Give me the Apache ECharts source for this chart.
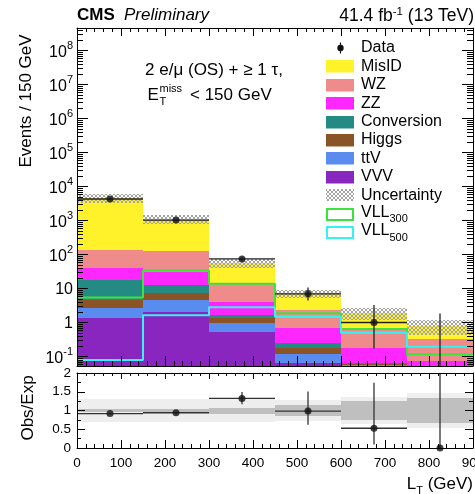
<!DOCTYPE html>
<html>
<head>
<meta charset="utf-8">
<script src="https://cdn.jsdelivr.net/npm/echarts@6.0.0/dist/echarts.min.js"></script>
<style>
html, body { margin: 0; padding: 0; background: #fff; }
#chart { width: 475px; height: 494px; }
</style>
</head>
<body>
<div id="chart"></div>
<script>
// L_T distribution, 150 GeV bins
const binEdges = [0, 150, 300, 450, 600, 750, 900];

// observed events with their 68% interval bounds
const observed     = [4290, 1029, 74, 7, 1, 0];
const observedLow  = [4225, 997, 65.4, 4.42, 0.173, 0];
const observedHigh = [4356, 1062, 83.6, 10.7, 3.30, 1.84];

// expected backgrounds (stacked bottom to top: VVV, ttV, Higgs, Conversion, ZZ, WZ, MisID)
const misID      = [4535, 968, 41.8, 4.8, 1.28, 0.47];
const wz         = [96, 96, 10.1, 1.6, 0.446, 0.255];
const zz         = [21.2, 18.3, 2.44, 0.455, 0.108, 0.035];
const conversion = [13.2, 5.5, 0.33, 0.071, 0.005, 0.005];
const higgs      = [1.9, 2.6, 0.34, 0.056, 0.004, 0.005];
const ttV        = [1.32, 2.6, 0.45, 0.055, 0.022, 0.01];
const vvv        = [1.38, 2.0, 0.54, 0.063, 0.035, 0.02];

// signal hypotheses
const vll300 = [5.4, 34, 13.7, 1.86, 0.64, 0.116];
const vll500 = [0.079, 1.63, 2.8, 1.48, 0.5, 0.195];

// relative uncertainty on the expectation (total and statistical)
const relUncTotal = [0.30, 0.30, 0.30, 0.27, 0.37, 0.47];
const relUncStat  = [0.03, 0.04, 0.08, 0.135, 0.255, 0.34];

// ratio panel ticks
const ratioTicks = [0, 0.5, 1, 1.5, 2];

const FONT = "'Liberation Sans', Arial, Helvetica, sans-serif";
const Y_MIN = Math.pow(10, -1.279);
const Y_MAX = Math.pow(10, 8.662);

const stackOrder = [
  { name: 'VVV', values: vvv, color: '#8a26c0' },
  { name: 'ttV', values: ttV, color: '#5a8cf0' },
  { name: 'Higgs', values: higgs, color: '#8b5426' },
  { name: 'Conversion', values: conversion, color: '#248a84' },
  { name: 'ZZ', values: zz, color: '#ff27ff' },
  { name: 'WZ', values: wz, color: '#f08b8b' },
  { name: 'MisID', values: misID, color: '#fff22b' }
];

const nBins = observed.length;
const totals = [];
for (let i = 0; i < nBins; i++) {
  let s = 0;
  stackOrder.forEach(c => { s += c.values[i]; });
  totals.push(s);
}

// fine cross-hatch used for the uncertainty band
function makeHatch() {
  const c = document.createElement('canvas');
  c.width = 4; c.height = 4;
  const g = c.getContext('2d');
  g.fillStyle = '#a3a3a3';
  [[0,0],[1,1],[2,2],[3,3],[3,0],[2,1],[1,2],[0,3]].forEach(p => g.fillRect(p[0], p[1], 1, 1));
  return c;
}
const hatch = { image: makeHatch(), repeat: 'repeat' };

function clipRect(p0, p1, cs) {
  const x = Math.round(Math.min(p0[0], p1[0]));
  const x2 = Math.round(Math.max(p0[0], p1[0]));
  const y = Math.round(Math.min(p0[1], p1[1]));
  const y2 = Math.round(Math.max(p0[1], p1[1]));
  return echarts.graphic.clipRectByRect(
    { x: x, y: y, width: x2 - x, height: y2 - y },
    { x: cs.x, y: cs.y, width: cs.width, height: cs.height }
  );
}

function rectRenderer(fill) {
  return function (params, api) {
    const lo = api.value(2);
    const hi = api.value(3);
    const p0 = api.coord([api.value(0), hi]);
    const p1 = api.coord([api.value(1), lo]);
    const shape = clipRect(p0, p1, params.coordSys);
    if (!shape) return null;
    return { type: 'rect', shape: shape, style: { fill: fill } };
  };
}

const series = [];

// stacked backgrounds
const cum = new Array(nBins).fill(0);
stackOrder.forEach(comp => {
  const rows = [];
  for (let i = 0; i < nBins; i++) {
    const lo = cum[i] > 0 ? cum[i] : Y_MIN * 1e-3;
    const hi = cum[i] + comp.values[i];
    rows.push([binEdges[i], binEdges[i + 1], lo, hi]);
    cum[i] = hi;
  }
  series.push({
    type: 'custom', name: comp.name, xAxisIndex: 0, yAxisIndex: 0, z: 2,
    renderItem: rectRenderer(comp.color), encode: { x: [0, 1], y: [2, 3] },
    data: rows, silent: true
  });
});

// uncertainty band on the expectation
series.push({
  type: 'custom', name: 'Uncertainty', xAxisIndex: 0, yAxisIndex: 0, z: 3,
  renderItem: rectRenderer(hatch), encode: { x: [0, 1], y: [2, 3] },
  data: totals.map((t, i) => [binEdges[i], binEdges[i + 1], t * (1 - relUncTotal[i]), t * (1 + relUncTotal[i])]),
  silent: true
});

// signal outlines
function stepData(vals) {
  const d = vals.map((v, i) => [binEdges[i], v]);
  d.push([binEdges[nBins], vals[nBins - 1]]);
  return d;
}
series.push({
  type: 'line', name: 'VLL300', xAxisIndex: 0, yAxisIndex: 0, z: 4, step: 'end',
  showSymbol: false, symbol: 'none', data: stepData(vll300),
  lineStyle: { color: '#3de33d', width: 2 }, silent: true
});
series.push({
  type: 'line', name: 'VLL500', xAxisIndex: 0, yAxisIndex: 0, z: 4, step: 'end',
  showSymbol: false, symbol: 'none', data: stepData(vll500),
  lineStyle: { color: '#33f3f3', width: 2 }, silent: true
});

// data error bars
function errRenderer(color, width) {
  return function (params, api) {
    const cs = params.coordSys;
    const x0 = api.value(0), x1 = api.value(1), v = api.value(2), lo = api.value(3), hi = api.value(4);
    const xc = (x0 + x1) / 2;
    const bottom = cs.y + cs.height, top = cs.y;
    const children = [];
    const pHi = api.coord([xc, hi]);
    let yTop = Math.max(pHi[1], top);
    let yBot = lo > 0 ? api.coord([xc, lo])[1] : bottom;
    yBot = Math.min(yBot, bottom);
    if (yBot > yTop) {
      children.push({ type: 'line', shape: { x1: pHi[0], y1: yTop, x2: pHi[0], y2: yBot },
        style: { stroke: color, lineWidth: width } });
    }
    if (v > 0) {
      const a = api.coord([x0, v]), b = api.coord([x1, v]);
      if (a[1] >= top && a[1] <= bottom) {
        children.push({ type: 'line', shape: { x1: a[0], y1: a[1], x2: b[0], y2: b[1] },
          style: { stroke: color, lineWidth: width } });
      }
    }
    return { type: 'group', children: children };
  };
}
series.push({
  type: 'custom', name: 'DataErr', xAxisIndex: 0, yAxisIndex: 0, z: 5,
  renderItem: errRenderer('#222', 1.3), encode: { x: [0, 1], y: [3, 4] },
  data: observed.map((v, i) => [binEdges[i], binEdges[i + 1], v, observedLow[i], observedHigh[i]]),
  silent: true
});
series.push({
  type: 'scatter', name: 'Data', xAxisIndex: 0, yAxisIndex: 0, z: 6,
  symbol: 'circle', symbolSize: 7, itemStyle: { color: '#111' },
  data: observed.map((v, i) => [(binEdges[i] + binEdges[i + 1]) / 2, v]).filter(d => d[1] > 0),
  silent: true
});

// log-axis minor ticks (2..9 of each decade), both sides
const minorTickVals = [];
for (let e = -2; e <= 8; e++) {
  for (let k = 2; k <= 9; k++) {
    const v = k * Math.pow(10, e);
    if (v > Y_MIN && v < Y_MAX) minorTickVals.push([450, v]);
  }
}
series.push({
  type: 'custom', name: 'logMinor', xAxisIndex: 0, yAxisIndex: 0, z: 20,
  encode: { x: 0, y: 1 }, data: minorTickVals, silent: true,
  renderItem: function (params, api) {
    const cs = params.coordSys;
    const y = Math.round(api.coord([450, api.value(1)])[1]) + 0.5;
    return { type: 'group', children: [
      { type: 'line', shape: { x1: cs.x, y1: y, x2: cs.x + 6, y2: y }, style: { stroke: '#000', lineWidth: 1 } },
      { type: 'line', shape: { x1: cs.x + cs.width, y1: y, x2: cs.x + cs.width - 6, y2: y }, style: { stroke: '#000', lineWidth: 1 } }
    ] };
  }
});

// ratio panel: uncertainty bands
series.push({
  type: 'custom', name: 'RatioTotUnc', xAxisIndex: 2, yAxisIndex: 2, z: 2,
  renderItem: rectRenderer('#eeeeee'), encode: { x: [0, 1], y: [2, 3] },
  data: relUncTotal.map((u, i) => [binEdges[i], binEdges[i + 1], 1 - u, 1 + u]), silent: true
});
series.push({
  type: 'custom', name: 'RatioStatUnc', xAxisIndex: 2, yAxisIndex: 2, z: 3,
  renderItem: rectRenderer('#bfbfbf'), encode: { x: [0, 1], y: [2, 3] },
  data: relUncStat.map((u, i) => [binEdges[i], binEdges[i + 1], 1 - u, 1 + u]), silent: true
});
series.push({
  type: 'custom', name: 'RatioErr', xAxisIndex: 2, yAxisIndex: 2, z: 5,
  renderItem: errRenderer('#333', 1.3), encode: { x: [0, 1], y: [3, 4] },
  data: observed.map((v, i) => [binEdges[i], binEdges[i + 1], v / totals[i],
    observedLow[i] / totals[i], observedHigh[i] / totals[i]]),
  silent: true
});
series.push({
  type: 'scatter', name: 'Ratio', xAxisIndex: 2, yAxisIndex: 2, z: 6,
  symbol: 'circle', symbolSize: 7, itemStyle: { color: '#111' }, clip: false,
  data: observed.map((v, i) => [(binEdges[i] + binEdges[i + 1]) / 2, v / totals[i]]),
  silent: true
});

function xAxisDef(gridIndex, position, showLabel, majorLen, minorLen) {
  return {
    type: 'value', gridIndex: gridIndex, position: position, min: 0, max: 900, interval: 100, z: 20,
    axisLine: { show: true, onZero: false, lineStyle: { color: '#000', width: 1 } },
    axisTick: { show: true, inside: true, length: majorLen, lineStyle: { color: '#000', width: 1 } },
    minorTick: { show: true, splitNumber: 5, length: minorLen, lineStyle: { color: '#000', width: 1 } },
    splitLine: { show: false }, minorSplitLine: { show: false },
    axisLabel: { show: showLabel, color: '#000', fontFamily: FONT, fontSize: 13.5, margin: 8,
      showMinLabel: true, showMaxLabel: true }
  };
}

function logLabel(v) {
  const e = Math.round(Math.log10(v));
  if (e === 0) return '{b|1}';
  if (e === 1) return '{b|10}';
  return '{b|10}{s|' + e + '}';
}

const option = {
  animation: false,
  backgroundColor: '#fff',
  grid: [
    { left: 77, top: 28, width: 396, height: 338, containLabel: false, outerBoundsMode: 'none' },
    { left: 77, top: 373, width: 396, height: 75, containLabel: false, outerBoundsMode: 'none' }
  ],
  xAxis: [
    xAxisDef(0, 'bottom', false, 10, 5),
    xAxisDef(0, 'top', false, 8, 4),
    xAxisDef(1, 'bottom', true, 8, 4),
    xAxisDef(1, 'top', false, 6, 3)
  ],
  yAxis: [
    {
      type: 'log', logBase: 10, gridIndex: 0, position: 'left', min: Y_MIN, max: Y_MAX, splitNumber: 10, z: 20,
      axisLine: { show: true, onZero: false, lineStyle: { color: '#000', width: 1 } },
      axisTick: { show: true, inside: true, length: 11, lineStyle: { color: '#000', width: 1 } },
      splitLine: { show: false },
      axisLabel: {
        show: true, margin: 4, showMinLabel: false, showMaxLabel: false, formatter: logLabel,
        rich: {
          b: { fontFamily: FONT, fontSize: 16, color: '#000', verticalAlign: 'bottom', lineHeight: 18 },
          s: { fontFamily: FONT, fontSize: 11, color: '#000', verticalAlign: 'bottom', padding: [0, 0, 9, 0] }
        }
      }
    },
    {
      type: 'log', logBase: 10, gridIndex: 0, position: 'right', min: Y_MIN, max: Y_MAX, splitNumber: 10, z: 20,
      axisLine: { show: true, onZero: false, lineStyle: { color: '#000', width: 1 } },
      axisTick: { show: true, inside: true, length: 11, lineStyle: { color: '#000', width: 1 } },
      splitLine: { show: false }, axisLabel: { show: false }
    },
    {
      type: 'value', gridIndex: 1, position: 'left', min: ratioTicks[0], max: ratioTicks[ratioTicks.length - 1],
      interval: ratioTicks[1] - ratioTicks[0], z: 20,
      axisLine: { show: true, onZero: false, lineStyle: { color: '#000', width: 1 } },
      axisTick: { show: true, inside: true, length: 8, lineStyle: { color: '#000', width: 1 } },
      minorTick: { show: true, splitNumber: 2, length: 4, lineStyle: { color: '#000', width: 1 } },
      splitLine: { show: false }, minorSplitLine: { show: false },
      axisLabel: { show: true, color: '#000', fontFamily: FONT, fontSize: 13.5, margin: 6 }
    },
    {
      type: 'value', gridIndex: 1, position: 'right', min: ratioTicks[0], max: ratioTicks[ratioTicks.length - 1],
      interval: ratioTicks[1] - ratioTicks[0], z: 20,
      axisLine: { show: true, onZero: false, lineStyle: { color: '#000', width: 1 } },
      axisTick: { show: true, inside: true, length: 8, lineStyle: { color: '#000', width: 1 } },
      minorTick: { show: true, splitNumber: 2, length: 4, lineStyle: { color: '#000', width: 1 } },
      splitLine: { show: false }, axisLabel: { show: false }
    }
  ],
  series: series,
  graphic: []
};

// text and legend
const g = option.graphic;
function txt(x, y, text, size, extra) {
  const style = Object.assign({
    text: text, font: size + 'px ' + FONT, fill: '#000',
    align: 'left', textAlign: 'left', verticalAlign: 'middle', textVerticalAlign: 'middle'
  }, extra || {});
  return { type: 'text', x: x, y: y, z: 50, silent: true, style: style };
}

g.push(txt(77, 15.5, 'CMS', 17, { font: 'bold 17px ' + FONT }));
g.push(txt(124, 15.5, 'Preliminary', 17, { font: 'italic 17px ' + FONT }));
g.push({
  type: 'text', x: 474, y: 15.5, z: 50, silent: true,
  style: {
    text: '{n|41.4 fb}{s|-1}{n| (13 TeV)}', align: 'right', textAlign: 'right',
    verticalAlign: 'middle', textVerticalAlign: 'middle',
    rich: {
      n: { font: '17.5px ' + FONT, fill: '#000', verticalAlign: 'bottom', lineHeight: 19 },
      s: { font: '11.5px ' + FONT, fill: '#000', verticalAlign: 'bottom', padding: [0, 0, 8, 0] }
    }
  }
});

// selection label
g.push(txt(214, 70, '2 e/\u03bc (OS) + \u2265 1 \u03c4,', 17, { align: 'center', textAlign: 'center' }));
g.push(txt(147.5, 95.5, 'E', 17));
g.push(txt(159.5, 88.5, 'miss', 11));
g.push(txt(159.5, 101.5, 'T', 11));
g.push(txt(190, 95.5, '< 150 GeV', 17));

// axis titles
g.push({ type: 'text', x: 26, y: 101, rotation: Math.PI / 2, z: 50, silent: true,
  style: { text: 'Events / 150 GeV', font: '17px ' + FONT, fill: '#000',
    align: 'center', textAlign: 'center', verticalAlign: 'middle', textVerticalAlign: 'middle' } });
g.push({ type: 'text', x: 28, y: 408, rotation: Math.PI / 2, z: 50, silent: true,
  style: { text: 'Obs/Exp', font: '17px ' + FONT, fill: '#000',
    align: 'center', textAlign: 'center', verticalAlign: 'middle', textVerticalAlign: 'middle' } });
g.push({
  type: 'text', x: 473, y: 487, z: 50, silent: true,
  style: {
    text: '{n|L}{s|T}{n| (GeV)}', align: 'right', textAlign: 'right',
    verticalAlign: 'middle', textVerticalAlign: 'middle',
    rich: {
      n: { font: '17px ' + FONT, fill: '#000', verticalAlign: 'bottom', lineHeight: 18, padding: [0, 0, 3, 0] },
      s: { font: '11px ' + FONT, fill: '#000', verticalAlign: 'bottom' }
    }
  }
});

// legend
const legendX = 326, legendTextX = 361, legendY0 = 48, legendStep = 18.4;
const legendRows = [
  { label: 'Data', kind: 'data' },
  { label: 'MisID', color: '#fff22b' },
  { label: 'WZ', color: '#f08b8b' },
  { label: 'ZZ', color: '#ff27ff' },
  { label: 'Conversion', color: '#248a84' },
  { label: 'Higgs', color: '#8b5426' },
  { label: 'ttV', color: '#5a8cf0' },
  { label: 'VVV', color: '#8a26c0' },
  { label: 'Uncertainty', kind: 'hatch' },
  { label: 'VLL', sub: '300', kind: 'outline', color: '#3de33d' },
  { label: 'VLL', sub: '500', kind: 'outline', color: '#33f3f3' }
];
legendRows.forEach((r, i) => {
  const cy = legendY0 + i * legendStep;
  if (r.kind === 'data') {
    g.push({ type: 'line', z: 50, silent: true, shape: { x1: 340.5, y1: cy - 5.5, x2: 340.5, y2: cy + 5.5 },
      style: { stroke: '#111', lineWidth: 1.2 } });
    g.push({ type: 'circle', z: 51, silent: true, shape: { cx: 340.5, cy: cy, r: 3.2 }, style: { fill: '#111' } });
  } else if (r.kind === 'hatch') {
    g.push({ type: 'rect', z: 50, silent: true, shape: { x: legendX, y: Math.round(cy - 6), width: 28, height: 12 },
      style: { fill: hatch } });
  } else if (r.kind === 'outline') {
    g.push({ type: 'rect', z: 50, silent: true, shape: { x: legendX + 1, y: Math.round(cy - 6) + 1, width: 26, height: 11 },
      style: { fill: '#fff', stroke: r.color, lineWidth: 2 } });
  } else {
    g.push({ type: 'rect', z: 50, silent: true, shape: { x: legendX, y: Math.round(cy - 6), width: 28, height: 12.5 },
      style: { fill: r.color } });
  }
  if (r.sub) {
    g.push({
      type: 'text', x: legendTextX, y: cy + 2, z: 50, silent: true,
      style: {
        text: '{n|' + r.label + '}{s|' + r.sub + '}', align: 'left', textAlign: 'left',
        verticalAlign: 'middle', textVerticalAlign: 'middle',
        rich: {
          n: { font: '16px ' + FONT, fill: '#000', verticalAlign: 'bottom', lineHeight: 18, padding: [0, 0, 4, 0] },
          s: { font: '11px ' + FONT, fill: '#000', verticalAlign: 'bottom' }
        }
      }
    });
  } else {
    g.push(txt(legendTextX, cy, r.label, 16));
  }
});

const chart = echarts.init(document.getElementById('chart'), null, { renderer: 'canvas', width: 475, height: 494 });
chart.setOption(option);
</script>
</body>
</html>
